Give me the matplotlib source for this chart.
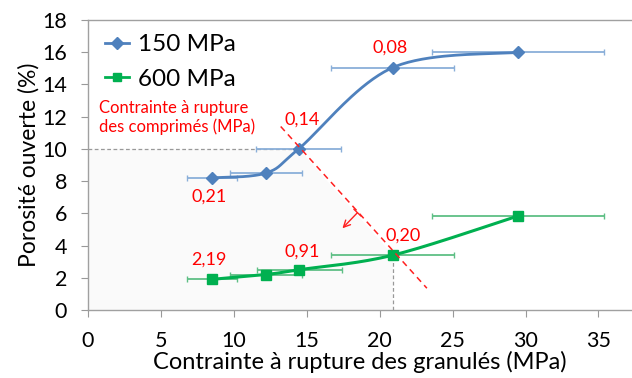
import numpy as np
import matplotlib
matplotlib.use("Agg")
import matplotlib.pyplot as plt

plt.rcParams['font.family'] = ['Lato', 'DejaVu Sans']

# Data
x150 = [8.5, 12.2, 14.45, 20.9, 29.5]
y150 = [8.2, 8.5, 10.0, 15.05, 16.0]
xerr150 = [1.7, 2.45, 2.9, 4.2, 5.9]
x600 = [8.5, 12.2, 14.5, 20.9, 29.5]
y600 = [1.9, 2.2, 2.5, 3.4, 5.84]
xerr600 = [1.7, 2.45, 2.9, 4.2, 5.9]
labels = ["0,21", "0,14", "0,08", "2,19", "0,91", "0,20"]
label_pos = [(8.3, 7.05), (14.7, 11.8), (20.7, 16.3), (8.3, 3.1), (14.66, 3.62), (21.6, 4.62)]
xticks = [0, 5, 10, 15, 20, 25, 30, 35]
yticks = [0, 2, 4, 6, 8, 10, 12, 14, 16, 18]


def smooth(xs, ys, n=40):
    # Excel-style smoothed line (Catmull-Rom Bezier)
    P = np.column_stack([xs, ys]).astype(float)
    out = []
    for i in range(len(P) - 1):
        p0 = P[i - 1] if i > 0 else P[i]
        p1 = P[i]
        p2 = P[i + 1]
        p3 = P[i + 2] if i + 2 < len(P) else P[i + 1]
        c1 = p1 + (p2 - p0) / 6
        c2 = p2 - (p3 - p1) / 6
        t = np.linspace(0, 1, n)[:, None]
        seg = (1 - t) ** 3 * p1 + 3 * (1 - t) ** 2 * t * c1 + 3 * (1 - t) * t ** 2 * c2 + t ** 3 * p2
        out.append(seg)
    s = np.vstack(out)
    return s[:, 0], s[:, 1]


fig = plt.figure(figsize=(6.32, 3.78), dpi=100)
ax = fig.add_axes([0.139, 0.180, 0.861, 0.767])
ax.set_xlim(0, 37.3)
ax.set_ylim(0, 18)

# faint shaded region
ax.fill([0, 0, x150[2], x600[3], x600[3]], [0, y150[2], y150[2], y600[3], 0],
        color='#fafafa', zorder=0, lw=0)

# guide dashed lines
ax.plot([0, x150[2]], [y150[2], y150[2]], ls=(0, (3, 2)), color='#999999', lw=0.9, zorder=1)
ax.plot([x600[3], x600[3]], [0, y600[3]], ls=(0, (3, 2)), color='#999999', lw=0.9, zorder=1)

blue = '#4F81BD'
green = '#00B050'

ax.errorbar(x150, y150, xerr=xerr150, fmt='none', ecolor='#8AAFD9', elinewidth=1.3,
            capsize=2.5, capthick=1.0, zorder=2)
ax.errorbar(x600, y600, xerr=xerr600, fmt='none', ecolor='#5EBF85', elinewidth=1.3,
            capsize=2.5, capthick=1.0, zorder=2)

sx, sy = smooth(x150, y150)
ax.plot(sx, sy, color=blue, lw=2.0, zorder=3)
ax.plot(x150, y150, ls='none', marker='D', ms=6.5, color=blue, zorder=4)
sx, sy = smooth(x600, y600)
ax.plot(sx, sy, color=green, lw=2.2, zorder=3)
ax.plot(x600, y600, ls='none', marker='s', ms=7, color=green, zorder=4)

# legend handles
ax.plot([], [], color=blue, lw=2, marker='D', ms=6, label='150 MPa')
ax.plot([], [], color=green, lw=2, marker='s', ms=6, label='600 MPa')
h, l = ax.get_legend_handles_labels()
leg = ax.legend(h[-2:], l[-2:], loc='upper left', bbox_to_anchor=(0.0, 1.01), frameon=False,
                fontsize=17.5, handlelength=1.0, handletextpad=0.35, labelspacing=0.55,
                borderaxespad=0.3)

# red dashed line and arrow
ax.plot([13.22, 23.24], [11.39, 1.35], ls=(0, (4, 3)), color='#FF2020', lw=1.1, zorder=5)
ax.annotate('', xy=(17.45, 5.07), xytext=(18.48, 6.04),
            arrowprops=dict(arrowstyle=']->,widthA=0.3,lengthA=0',
                            color='#FF2020', lw=1.0, shrinkA=0, shrinkB=0, mutation_scale=12))

ax.text(0.75, 11.95, "Contrainte à rupture\ndes comprimés (MPa)", color='#FF0000',
        fontsize=12, ha='left', va='center', linespacing=1.2)

for t, (px, py) in zip(labels, label_pos):
    ax.text(px, py, t, color='#FF0000', fontsize=13, ha='center', va='center')

ax.set_xticks(xticks)
ax.set_yticks(yticks)
ax.tick_params(axis='both', labelsize=15.5, colors='#999999', labelcolor='black', length=5, width=0.8)
ax.tick_params(axis='x', pad=10)
ax.tick_params(axis='y', pad=10)
for s in ['left', 'bottom', 'top']:
    ax.spines[s].set_color('#A0A0A0')
    ax.spines[s].set_linewidth(1.0)
ax.spines['right'].set_visible(False)

ax.set_xlabel('Contrainte à rupture des granulés (MPa)', fontsize=17, labelpad=0)
ax.set_ylabel('Porosité ouverte (%)', fontsize=16.5, labelpad=2)

fig.savefig('out.png', dpi=100)
